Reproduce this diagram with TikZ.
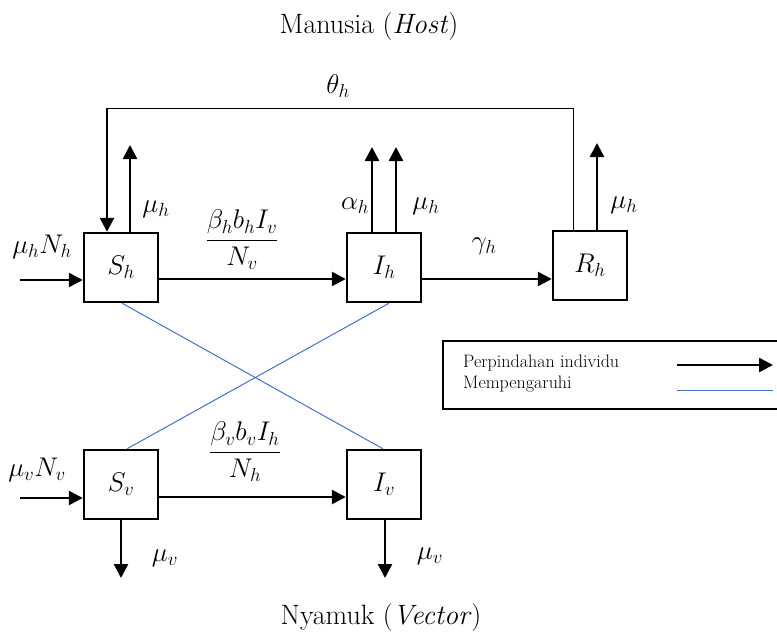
\RequirePackage{fix-cm}
\documentclass[tikz,border=0pt]{standalone}
\usepackage{amsmath}
\usepackage{fontspec}
\usetikzlibrary{arrows.meta}
\definecolor{linkblue}{RGB}{68,114,196}
\tikzset{
  box/.style={draw, line width=2.4pt, minimum width=74pt, minimum height=69pt, inner sep=0pt, font=\fontsize{27}{32}\selectfont},
  arr/.style={line width=2.6pt, -{Triangle[length=14pt,width=14pt]}},
  thinline/.style={line width=1pt},
  bluel/.style={draw=linkblue, line width=1pt},
  lab/.style={inner sep=0pt, font=\fontsize{27}{32}\selectfont},
  ttl/.style={inner sep=0pt, font=\fontsize{28}{33}\selectfont},
  leg/.style={inner sep=0pt, anchor=west, font=\fontsize{18}{21}\selectfont}
}
\begin{document}
\begin{tikzpicture}[x=1pt,y=-1pt]
\useasboundingbox (0,0) rectangle (777,635);
% boxes
\node[box] (Sh) at (121,267.5) {$S_h$};
\node[box] (Ih) at (384,267.5) {$I_h$};
\node[box] (Rh) at (590,265.5) {$R_h$};
\node[box] (Sv) at (121,484.5) {$S_v$};
\node[box] (Iv) at (384,484.5) {$I_v$};
% coordinates
\coordinate (inSh) at (20,280);
\coordinate (inSv) at (20,498);
\coordinate (loopc) at (107,108);
\coordinate (muSh) at (130,145);
\coordinate (alIh) at (372,147);
\coordinate (muIh) at (396,147);
\coordinate (muRh) at (597,143);
\coordinate (muSv) at (121,578);
\coordinate (muIv) at (385,578);
% human transitions
\draw[arr] (inSh) -- (inSh -| Sh.west);
\draw[arr] ([yshift=-11.5pt]Sh.east) -- ([yshift=-11.5pt]Ih.west);
\draw[arr] ([yshift=-11.5pt]Ih.east) -- ([yshift=-11.5pt]Ih.east -| Rh.west);
\draw[thinline] ([xshift=22pt]Rh.north west) |- (loopc);
\draw[arr] (loopc) -- (loopc |- Sh.north);
\draw[arr] (muSh |- Sh.north) -- (muSh);
\draw[arr] (alIh |- Ih.north) -- (alIh);
\draw[arr] (muIh |- Ih.north) -- (muIh);
\draw[arr] (muRh |- Rh.north) -- (muRh);
% vector transitions
\draw[arr] (inSv) -- (inSv -| Sv.west);
\draw[arr] ([yshift=-12.5pt]Sv.east) -- ([yshift=-12.5pt]Iv.west);
\draw[arr] (muSv |- Sv.south) -- (muSv);
\draw[arr] (muIv |- Iv.south) -- (muIv);
% influence lines
\draw[bluel] ([xshift=1pt]Sh.south) -- ([xshift=-1pt]Iv.north);
\draw[bluel] ([xshift=5pt]Ih.south) -- ([xshift=6pt]Sv.north);
% labels
\node[ttl] (tH) at (369,27) {Manusia (\textit{Host})};
\node[ttl] (tV) at (381,618) {Nyamuk (\textit{Vector})};
\node[lab] (lth) at (338,86) {$\theta_h$};
\node[lab] (lmuhNh) at (42,247) {$\mu_h N_h$};
\node[lab] (lmuSh) at (156,209) {$\mu_h$};
\node[lab] (lfh) at (242,240) {$\dfrac{\beta_h b_h I_v}{N_v}$};
\node[lab] (lal) at (355,206) {$\alpha_h$};
\node[lab] (lmuIh) at (426,206) {$\mu_h$};
\node[lab] (lgam) at (484,246) {$\gamma_h$};
\node[lab] (lmuRh) at (624,205) {$\mu_h$};
\node[lab] (lmuvNv) at (37,470) {$\mu_v N_v$};
\node[lab] (lfv) at (245,452) {$\dfrac{\beta_v b_v I_h}{N_h}$};
\node[lab] (lmuSv) at (165,558) {$\mu_v$};
\node[lab] (lmuIv) at (430,556) {$\mu_v$};
% legend
\draw[line width=2pt] (777,341) -| (443,409) -- (777,409);
\node[leg] (leg1) at (463,363) {Perpindahan individu};
\node[leg] (leg2) at (463,384) {Mempengaruhi};
\coordinate (la1) at (677,365);
\coordinate (la2) at (773,365);
\coordinate (lb1) at (677,390);
\coordinate (lb2) at (773,390);
\draw[arr] (la1) -- (la2);
\draw[bluel] (lb1) -- (lb2);
\end{tikzpicture}
\end{document}
